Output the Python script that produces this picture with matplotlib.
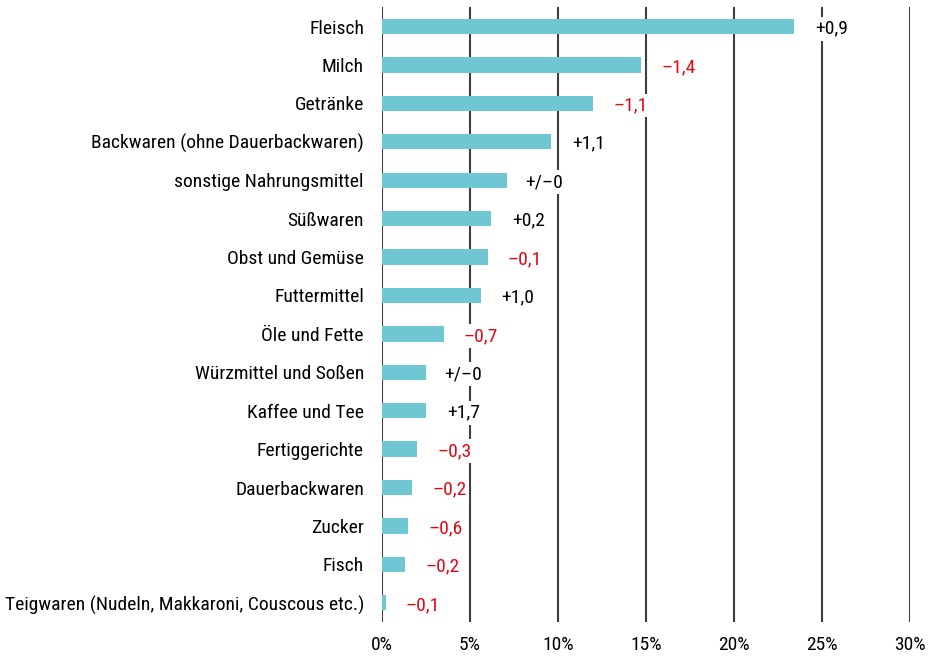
import matplotlib
matplotlib.use("Agg")
import matplotlib.pyplot as plt
from matplotlib import font_manager

# pick a condensed sans face if available
cands = []
for f in font_manager.fontManager.ttflist:
    fn = f.fname.lower()
    if ("condensed" in fn or "narrow" in fn or str(f.stretch) in ("condensed", "semi-condensed", "extra-condensed", "75", "87.5")) \
            and f.style == "normal" and f.weight in (400, "normal", "regular") and "bold" not in fn and "light" not in fn:
        cands.append(f)
prio = ["roboto", "liberation", "opensans", "open", "noto", "dejavu"]
def key(f):
    fn = f.fname.lower()
    for i, p in enumerate(prio):
        if p in fn.split("/")[-1]:
            return i
    return 99
cands.sort(key=key)
FP = font_manager.FontProperties(fname=cands[0].fname) if cands else font_manager.FontProperties(family="DejaVu Sans")

categories = [
    "Fleisch", "Milch", "Getränke", "Backwaren (ohne Dauerbackwaren)",
    "sonstige Nahrungsmittel", "Süßwaren", "Obst und Gemüse", "Futtermittel",
    "Öle und Fette", "Würzmittel und Soßen", "Kaffee und Tee", "Fertiggerichte",
    "Dauerbackwaren", "Zucker", "Fisch", "Teigwaren (Nudeln, Makkaroni, Couscous etc.)",
]
shares = [23.4, 14.7, 12.0, 9.6, 7.1, 6.2, 6.0, 5.6, 3.5, 2.5, 2.5, 2.0, 1.7, 1.5, 1.3, 0.2]
changes = ["+0,9", "\u20131,4", "\u20131,1", "+1,1", "+/\u20130", "+0,2", "\u20130,1", "+1,0",
           "\u20130,7", "+/\u20130", "+1,7", "\u20130,3", "\u20130,2", "\u20130,6", "\u20130,2", "\u20130,1"]
xticks = [0, 5, 10, 15, 20, 25, 30]
xticklabels = ["0%", "5%", "10%", "15%", "20%", "25%", "30%"]

BAR = "#6fc7d3"
RED = "#e30613"
GRID = "#3f3f3f"
FS = 14

fig = plt.figure(figsize=(9.32, 6.57), dpi=100)
ax = fig.add_axes([382 / 932, 1 - 622 / 657, 528 / 932, (622 - 7.3) / 657])

y = list(range(len(categories)))
ax.barh(y, shares, height=0.4, color=BAR, zorder=2)
ax.set_ylim(len(categories) - 0.5, -0.5)
ax.set_xlim(0, 30)

for xv in xticks:
    ax.axvline(xv, color=GRID, lw=1.5, zorder=1)

for yi, (v, c) in enumerate(zip(shares, changes)):
    col = RED if c.startswith("\u2013") else "black"
    ax.annotate(c, xy=(v, yi), xytext=(27, -1.5), textcoords="offset points",
                ha="center", va="center", fontproperties=FP, fontsize=FS, color=col, zorder=3,
                bbox=dict(boxstyle="square,pad=0.15", fc="white", ec="none"))

ax.set_yticks(y)
ax.set_yticklabels(categories, fontproperties=FP, fontsize=FS)
ax.set_xticks(xticks)
ax.set_xticklabels(xticklabels, fontproperties=FP, fontsize=FS)
ax.tick_params(axis="y", length=0, pad=13)
ax.tick_params(axis="x", length=0, pad=10)
for s in ax.spines.values():
    s.set_visible(False)

fig.savefig("out.png", dpi=100)
